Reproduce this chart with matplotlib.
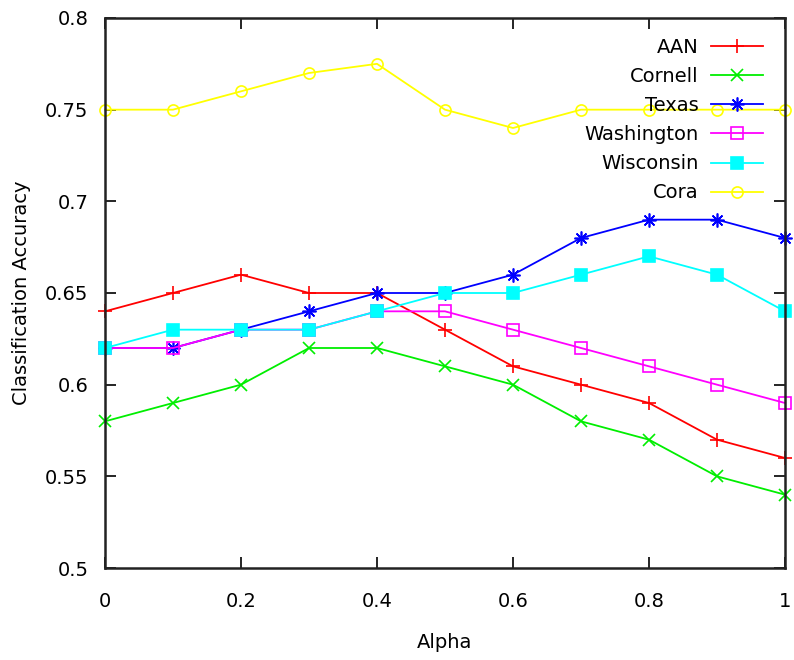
import matplotlib
matplotlib.use("Agg")
import matplotlib.pyplot as plt

alpha = [0.0, 0.1, 0.2, 0.3, 0.4, 0.5, 0.6, 0.7, 0.8, 0.9, 1.0]
aan = [0.64, 0.65, 0.66, 0.65, 0.65, 0.63, 0.61, 0.60, 0.59, 0.57, 0.56]
cornell = [0.58, 0.59, 0.60, 0.62, 0.62, 0.61, 0.60, 0.58, 0.57, 0.55, 0.54]
texas = [0.62, 0.62, 0.63, 0.64, 0.65, 0.65, 0.66, 0.68, 0.69, 0.69, 0.68]
washington = [0.62, 0.62, 0.63, 0.63, 0.64, 0.64, 0.63, 0.62, 0.61, 0.60, 0.59]
wisconsin = [0.62, 0.63, 0.63, 0.63, 0.64, 0.65, 0.65, 0.66, 0.67, 0.66, 0.64]
cora = [0.75, 0.75, 0.76, 0.77, 0.775, 0.75, 0.74, 0.75, 0.75, 0.75, 0.75]

xticks = [0, 0.2, 0.4, 0.6, 0.8, 1]
xticklabels = ["0", "0.2", "0.4", "0.6", "0.8", "1"]
yticks = [0.5, 0.55, 0.6, 0.65, 0.7, 0.75, 0.8]
yticklabels = ["0.5", "0.55", "0.6", "0.65", "0.7", "0.75", "0.8"]

fig = plt.figure(figsize=(7.94, 6.6), dpi=100)
ax = fig.add_axes([105/794, 1-568/660, (785-105)/794, (568-18)/660])

lw = 1.3
ax.plot(alpha, aan, color="#ff0000", marker="+", ms=10, mew=1.2, lw=lw, label="AAN", clip_on=False)
ax.plot(alpha, cornell, color="#00ee00", marker="x", ms=9, mew=1.2, lw=lw, label="Cornell", clip_on=False)
ax.plot(alpha, texas, color="#0000ff", marker=(8, 2, 0), ms=10, mew=1.2, lw=lw, label="Texas", clip_on=False)
ax.plot(alpha, washington, color="#ff00ff", marker="s", ms=8, mew=1.2, mfc="none", lw=lw, label="Washington", clip_on=False)
ax.plot(alpha, wisconsin, color="#00ffff", marker="s", ms=8, mew=1.2, lw=lw, label="Wisconsin", clip_on=False)
ax.plot(alpha, cora, color="#ffff00", marker="o", ms=8, mew=1.2, mfc="none", lw=lw, label="Cora", clip_on=False)

ax.set_xlim(0, 1)
ax.set_ylim(0.5, 0.8)
ax.set_xticks(xticks)
ax.set_xticklabels(xticklabels)
ax.set_yticks(yticks)
ax.set_yticklabels(yticklabels)
ax.tick_params(direction="in", length=8, width=1.2, labelsize=14, top=True, right=True, pad=12)
ax.tick_params(axis="x", pad=17)
for s in ax.spines.values():
    s.set_linewidth(1.8)
    s.set_color("#222222")

ax.set_xlabel("Alpha", fontsize=14, labelpad=16)
ax.set_ylabel("Classification Accuracy", fontsize=14)
ax.yaxis.set_label_coords((31 - 105) / 680, 0.5)

leg = ax.legend(loc="upper right", bbox_to_anchor=(0.985, 0.985), frameon=False, markerfirst=False,
                fontsize=14, handlelength=2.7, labelspacing=0.52, borderaxespad=0.2, handletextpad=0.6)
fig.savefig("out.png", dpi=100)
